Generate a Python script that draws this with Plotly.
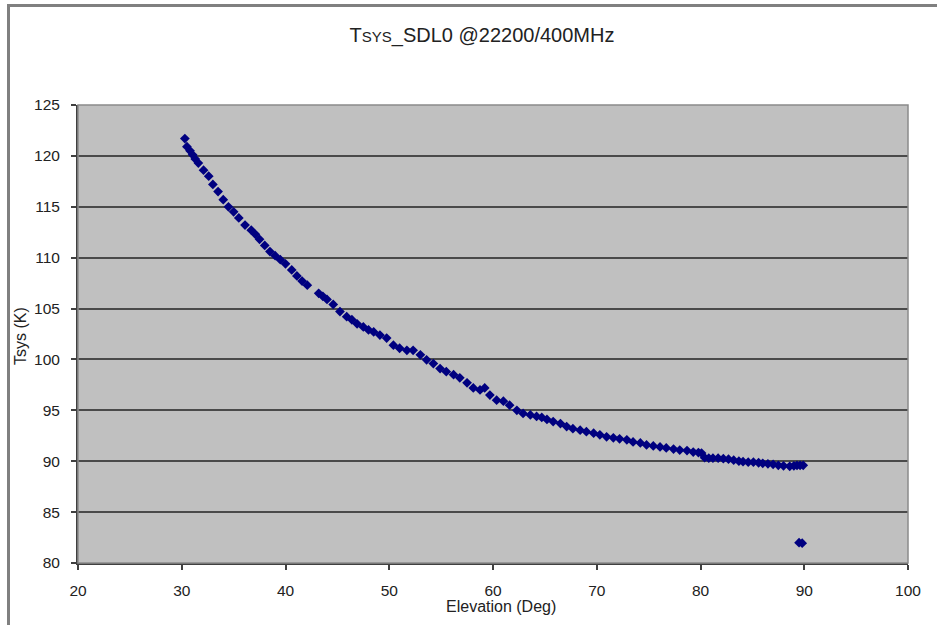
import plotly.graph_objects as go

elevation = [30.3, 30.5, 30.8, 31.05, 31.3, 31.6, 32.1, 32.6, 33.0, 33.5, 34.0, 34.5, 35.0, 35.5,
             36.1, 36.7, 37.1, 37.5, 38.0, 38.5, 39.0, 39.5, 40.0, 40.6, 41.1, 41.6, 42.1, 43.2,
             43.6, 44.0, 44.6, 45.25, 45.9, 46.4, 46.9, 47.5, 48.0, 48.5, 49.1, 49.75, 50.4, 51.0,
             51.7, 52.3, 53.0, 53.6, 54.25, 54.9, 55.5, 56.2, 56.8, 57.5, 58.1, 58.75, 59.2, 59.7,
             60.35, 61.0, 61.6, 62.3, 62.9, 63.6, 64.2, 64.7, 65.2, 65.8, 66.5, 67.1, 67.7, 68.4,
             69.0, 69.7, 70.3, 70.95, 71.6, 72.2, 72.9, 73.5, 74.2, 74.8, 75.45, 76.1, 76.7, 77.4,
             78.0, 78.7, 79.3, 79.8, 80.1, 80.4, 80.8, 81.2, 81.7, 82.2, 82.7, 83.2, 83.7, 84.1,
             84.6, 85.1, 85.6, 86.0, 86.5, 87.0, 87.5, 88.0, 88.6, 89.0, 89.3, 89.6, 89.9,
             89.5, 89.8]
tsys = [121.7, 120.9, 120.5, 120.1, 119.7, 119.3, 118.6, 118.0, 117.2, 116.5, 115.7, 115.0, 114.5, 113.9,
        113.2, 112.7, 112.3, 111.8, 111.2, 110.6, 110.2, 109.8, 109.4, 108.8, 108.2, 107.7, 107.3, 106.5,
        106.2, 105.9, 105.4, 104.7, 104.2, 103.9, 103.5, 103.2, 102.9, 102.7, 102.4, 102.1, 101.4, 101.1,
        100.9, 100.9, 100.45, 99.96, 99.6, 99.1, 98.8, 98.5, 98.2, 97.7, 97.2, 97.0, 97.2, 96.5,
        96.0, 95.9, 95.5, 95.0, 94.7, 94.55, 94.4, 94.3, 94.1, 93.9, 93.7, 93.4, 93.2, 93.05,
        92.9, 92.75, 92.6, 92.4, 92.3, 92.2, 92.1, 91.9, 91.8, 91.6, 91.5, 91.4, 91.3, 91.2,
        91.1, 91.05, 90.9, 90.85, 90.8, 90.35, 90.3, 90.3, 90.3, 90.25, 90.2, 90.1, 90.0, 89.95,
        89.9, 89.9, 89.85, 89.8, 89.75, 89.7, 89.6, 89.55, 89.5, 89.55, 89.6, 89.6, 89.6,
        82.0, 81.95]

x_ticks = [20, 30, 40, 50, 60, 70, 80, 90, 100]
y_ticks = [80, 85, 90, 95, 100, 105, 110, 115, 120, 125]

FONT = "Liberation Sans, Arial, sans-serif"
TICK_SIZE = 15.5
LABEL_SIZE = 16

fig = go.Figure()
fig.add_trace(go.Scatter(
    x=elevation, y=tsys, mode="markers",
    marker=dict(symbol="diamond", size=7.5, color="#000080", line=dict(width=0)),
    showlegend=False, hoverinfo="x+y"))

fig.update_layout(
    width=937, height=625,
    margin=dict(l=78, r=29, t=105, b=62),
    paper_bgcolor="white", plot_bgcolor="#c0c0c0",
    font=dict(family=FONT, size=TICK_SIZE, color="#222"),
    title=dict(text="T<span style='font-size:15px'>SYS</span>_SDL0 @22200/400MHz",
               x=(482-78)/830, xref="paper", xanchor="center", y=1 - 35/625, yanchor="middle",
               font=dict(family=FONT, size=20, color="#222")),
    xaxis=dict(range=[20, 100], tickvals=x_ticks, showgrid=False, zeroline=False,
               showline=True, linecolor="#404040", linewidth=2,
               ticks="outside", ticklen=5, tickcolor="#404040", tickwidth=2,
               ticklabelstandoff=7, tickfont=dict(size=TICK_SIZE, color="#222")),
    yaxis=dict(range=[80, 125], tickvals=y_ticks, showgrid=True, gridcolor="#4a4a4a", gridwidth=2,
               zeroline=False, showline=True, linecolor="#404040", linewidth=2,
               ticks="outside", ticklen=5, tickcolor="#404040", tickwidth=2,
               ticklabelstandoff=8, tickfont=dict(size=TICK_SIZE, color="#222")),
    annotations=[
        dict(text="Elevation (Deg)", x=(501-78)/830, y=-(606-563)/458, xref="paper", yref="paper",
             xanchor="center", yanchor="middle", showarrow=False,
             font=dict(family=FONT, size=LABEL_SIZE, color="#222")),
        dict(text="Tsys (K)", x=-(78-20)/830, y=(563-336)/458, xref="paper", yref="paper",
             xanchor="center", yanchor="middle", showarrow=False, textangle=-90,
             font=dict(family=FONT, size=LABEL_SIZE, color="#222")),
    ],
    shapes=[
        dict(type="rect", xref="paper", yref="paper", x0=0, y0=0, x1=1, y1=1,
             line=dict(color="#8a8a8a", width=1.5), layer="above"),
        dict(type="rect", xref="paper", yref="paper",
             x0=-(78-8.5)/830, y0=-0.3, x1=1.2, y1=(563-5.5)/458,
             line=dict(color="#808080", width=3), layer="above"),
    ],
)

fig.write_html("out.html")
